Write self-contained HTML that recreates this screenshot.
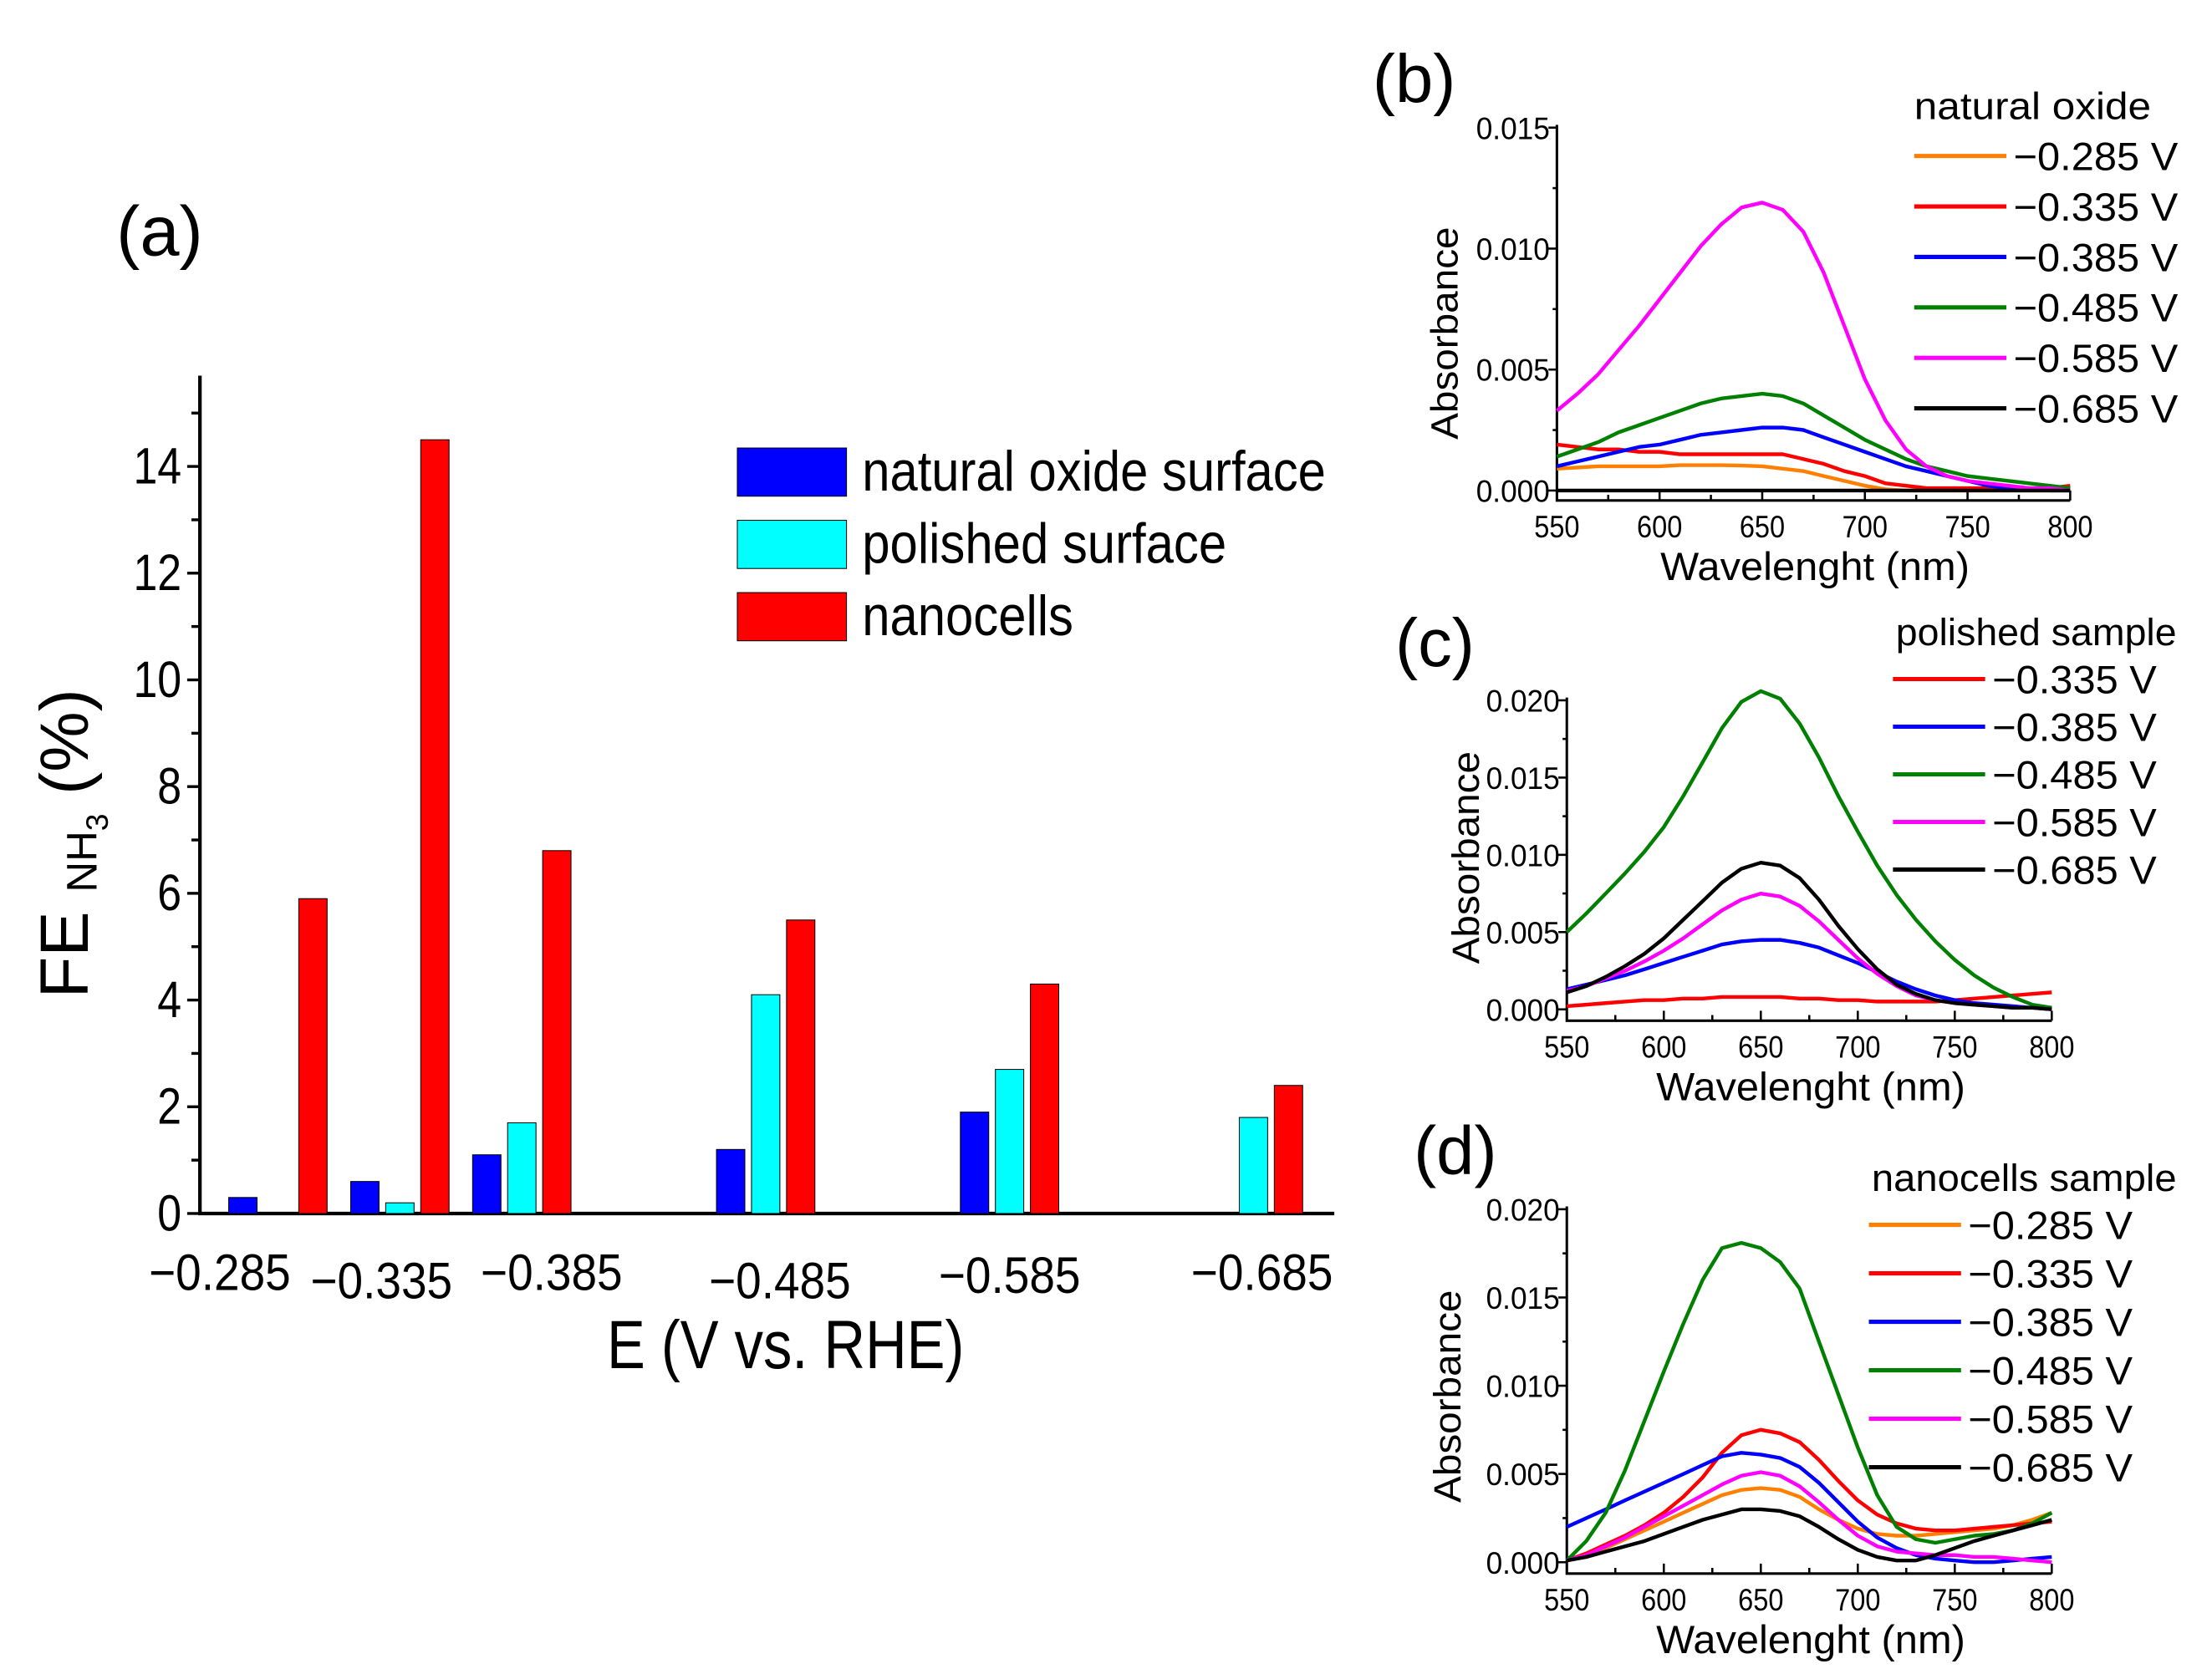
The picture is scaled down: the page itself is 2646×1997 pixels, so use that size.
<!DOCTYPE html>
<html><head><meta charset="utf-8"><style>
html,body{margin:0;padding:0;background:#fff}
svg{display:block}
text{font-family:"Liberation Sans Narrow","Liberation Sans",sans-serif;fill:#000}
</style></head><body>
<svg id="fig" width="2646" height="1997" viewBox="0 0 1560 1177.3" xmlns="http://www.w3.org/2000/svg">
<rect width="1560" height="1177.3" fill="#fff"/>
<g id="pa"></g>
<g id="pb"></g>
<g id="pc"></g>
<g id="pd"></g>
</svg>
<script>
// ---- Panel (a) data ----
const potentials = [-0.285, -0.335, -0.385, -0.485, -0.585, -0.685];
const potentialLabels = ["\u22120.285","\u22120.335","\u22120.385","\u22120.485","\u22120.585","\u22120.685"];
const natOxide = [0.3, 0.6, 1.1, 1.2, 1.9, null];
const polished = [null, 0.2, 1.7, 4.1, 2.7, 1.8];
const nanocells = [5.9, 14.5, 6.8, 5.5, 4.3, 2.4];
const aTicks = [0, 2, 4, 6, 8, 10, 12, 14];

// ---- Spectra data (550..800 nm, 10 nm step) ----
const wavelengths = [550,560,570,580,590,600,610,620,630,640,650,660,670,680,690,700,710,720,730,740,750,760,770,780,790,800];
const bOrange = [.0009,.00095,.001,.001,.001,.001,.00105,.00105,.00105,.00103,.001,.0009,.0008,.0006,.0004,.0002,.00005,0,0,0,0,0,0,0,0,0];
const bRed = [.0019,.0018,.0017,.0017,.0016,.0016,.0015,.0015,.0015,.0015,.0015,.0015,.0013,.0011,.0008,.0006,.0003,.0002,.0001,.0001,.0001,.0001,.0001,.0001,.0001,.0002];
const bBlue = [.001,.0012,.0014,.0016,.0018,.0019,.0021,.0023,.0024,.0025,.0026,.0026,.0025,.0022,.0019,.0016,.0013,.001,.0008,.0006,.0004,.0002,.0001,.0001,0,0];
const bGreen = [.0014,.0017,.002,.0024,.0027,.003,.0033,.0036,.0038,.0039,.004,.0039,.0036,.0031,.0026,.0021,.0017,.0013,.001,.0008,.0006,.0005,.0004,.0003,.0002,.0001];
const bMagenta = [.0033,.004,.0048,.0058,.0068,.0079,.009,.0101,.011,.0117,.0119,.0116,.0107,.009,.0068,.0046,.0029,.0017,.001,.0006,.0004,.0003,.0002,.0001,.0001,0];
const bBlack = [0,0,0,0,0,0,0,0,0,0,0,0,0,0,0,0,0,0,0,0,0,0,0,0,0,0];

const cRed = [.0002,.0003,.0004,.0005,.0006,.0006,.0007,.0007,.0008,.0008,.0008,.0008,.0007,.0007,.0006,.0006,.0005,.0005,.0005,.0005,.0006,.0007,.0008,.0009,.001,.0011];
const cBlue = [.0013,.0016,.0019,.0022,.0026,.003,.0034,.0038,.0042,.0044,.0045,.0045,.0043,.004,.0035,.003,.0024,.0018,.0013,.0009,.0006,.0004,.0003,.0002,.0001,.0001];
const cGreen = [.005,.0062,.0075,.0088,.0102,.0118,.0138,.016,.0182,.0199,.0206,.0201,.0185,.0163,.0138,.0115,.0093,.0074,.0058,.0044,.0032,.0022,.0014,.0008,.0003,.0001];
const cMagenta = [.0012,.0015,.002,.0025,.0031,.0038,.0046,.0055,.0064,.0071,.0075,.0073,.0067,.0057,.0045,.0033,.0023,.0015,.0009,.0006,.0004,.0003,.0002,.0001,.0001,0];
const cBlack = [.0011,.0015,.0021,.0028,.0036,.0046,.0058,.007,.0082,.0091,.0095,.0093,.0085,.0071,.0054,.0039,.0026,.0016,.001,.0006,.0004,.0003,.0002,.0001,.0001,0];

const dOrange = [.0001,.0004,.0008,.0013,.0018,.0023,.0028,.0033,.0038,.0041,.0042,.0041,.0037,.003,.0024,.0019,.0016,.0015,.0015,.0016,.0017,.0018,.0019,.0021,.0024,.0028];
const dRed = [.0001,.0005,.001,.0015,.0021,.0028,.0037,.0048,.0062,.0072,.0075,.0073,.0068,.0058,.0046,.0035,.0027,.0022,.0019,.0018,.0018,.0019,.002,.0021,.0022,.0023];
const dBlue = [.002,.0025,.003,.0035,.004,.0045,.005,.0055,.006,.0062,.0061,.0059,.0054,.0045,.0034,.0023,.0014,.0008,.0004,.0002,.0001,0,0,.0001,.0002,.0003];
const dGreen = [.0001,.0012,.0028,.0052,.008,.0108,.0135,.016,.0178,.0181,.0178,.017,.0155,.0125,.0095,.0065,.0038,.002,.0013,.0011,.0013,.0015,.0016,.0018,.0022,.0028];
const dMagenta = [.0001,.0004,.0009,.0014,.002,.0026,.0032,.0038,.0044,.0049,.0051,.0049,.0043,.0034,.0024,.0015,.0009,.0006,.0005,.0004,.0004,.0003,.0003,.0002,.0001,0];
const dBlack = [.0001,.0003,.0006,.0009,.0012,.0016,.002,.0024,.0027,.003,.003,.0029,.0026,.002,.0013,.0007,.0003,.0001,.0001,.0004,.0008,.0012,.0015,.0018,.0021,.0024];

const NS = "http://www.w3.org/2000/svg";
function mk(parent, tag, attrs, txt) {
  const e = document.createElementNS(NS, tag);
  for (const k in attrs) e.setAttribute(k, attrs[k]);
  if (txt !== undefined) e.textContent = txt;
  parent.appendChild(e);
  return e;
}

// ================= Panel (a) =================
(function(){
  const g = document.getElementById('pa');
  const y0 = 856, yPer = (856 - 329) / 14;
  const yS = v => y0 - v * yPer;
  const xS = p => 196 + (-0.285 - p) / 0.05 * 86;
  const bw = 20;
  // layout-only nudges for tick label placement (as in original figure)
  const labelNudge = [-41, -13, 21, 10, 0, 6];
  const labelDrop = [0, 6, 0, 6, 2, 0];
  const t = mk(g, 'text', {x: 82, y: 180, 'font-size': 50});
  t.textContent = '(a)';
  
  
  const ax = mk(g, 'path', {d: `M141 265 V${y0} H941`, stroke: '#000', 'stroke-width': 2.5, fill: 'none'});
  
  
  for (let v = 1; v <= 15; v += 2) {
    mk(g, 'line', {x1: 135, x2: 141, y1: yS(v), y2: yS(v), stroke: '#000', 'stroke-width': 2});
  }
  aTicks.forEach(v => {
    mk(g, 'line', {x1: 132, x2: 141, y1: yS(v), y2: yS(v), stroke: '#000', 'stroke-width': 2});
    const s = String(v);
    const tl = mk(g, 'text', {x: 128, y: yS(v) + 12, 'font-size': 36, 'text-anchor': 'end', textLength: s.length * 17, lengthAdjust: 'spacingAndGlyphs'}, s);
    
    
  });
  const series = [[natOxide, '#0000ff', -1], [polished, '#00ffff', 0], [nanocells, '#ff0000', 1]];
  potentials.forEach((p, i) => {
    const cx = xS(p);
    series.forEach(([arr, col, off]) => {
      const v = arr[i];
      if (v === null) return;
      const r = mk(g, 'rect', {x: cx - bw / 2 + off * 24.7, y: yS(v), width: bw, height: y0 - yS(v), fill: col, stroke: '#000', 'stroke-width': 0.6});
      
      
    });
    const tl = mk(g, 'text', {x: cx + labelNudge[i], y: 910 + labelDrop[i], 'font-size': 36, 'text-anchor': 'middle', textLength: 100, lengthAdjust: 'spacingAndGlyphs'}, potentialLabels[i]);
    
    
  });
  const xt = mk(g, 'text', {x: 554, y: 965, 'font-size': 48, 'text-anchor': 'middle', textLength: 252, lengthAdjust: 'spacingAndGlyphs'}, 'E (V vs. RHE)');
  
  
  const yt = mk(g, 'text', {transform: 'translate(62,595) rotate(-90)', 'font-size': 48, 'text-anchor': 'middle'});
  
  
  mk(yt, 'tspan', {}, 'FE ');
  mk(yt, 'tspan', {'font-size': 30, dy: 6}, 'NH');
  mk(yt, 'tspan', {'font-size': 22, dy: 8}, '3');
  mk(yt, 'tspan', {dy: -14}, ' (%)');
  const leg = [['natural oxide surface', '#0000ff', 327], ['polished surface', '#00ffff', 257], ['nanocells', '#ff0000', 149]];
  leg.forEach(([name, col, w], i) => {
    const y = 316 + i * 51;
    const r = mk(g, 'rect', {x: 520, y: y, width: 77, height: 34, fill: col, stroke: '#000', 'stroke-width': 0.6});
    
    
    const tx = mk(g, 'text', {x: 608, y: y + 30, 'font-size': 40, textLength: w, lengthAdjust: 'spacingAndGlyphs'}, name);
    
    
  });
})();

// ================= Spectra panels =================
function spectra(id, cfg) {
  const g = document.getElementById(id);
  const xS = w => cfg.x0 + (w - 550) / 250 * (cfg.x1 - cfg.x0);
  const yS = v => cfg.y0 - v / cfg.ymax * (cfg.y0 - cfg.ytop);
  const axY = cfg.axY;
  const lab = mk(g, 'text', {x: cfg.lx, y: cfg.ly, 'font-size': 48}, cfg.label);
  
  
  const ax = mk(g, 'path', {d: `M${cfg.x0} ${cfg.ytop - 2} V${axY} H${cfg.x1}`, stroke: '#000', 'stroke-width': 1.8, fill: 'none'});
  
  
  for (let w = 550; w <= 800; w += 25) {
    const major = (w % 50 === 0);
    mk(g, 'line', {x1: xS(w), x2: xS(w), y1: axY, y2: axY - (major ? 7 : 4), stroke: '#000', 'stroke-width': 1.5});
    if (major) {
      const tl = mk(g, 'text', {x: xS(w), y: axY + 26, 'font-size': 22, 'text-anchor': 'middle', textLength: 32, lengthAdjust: 'spacingAndGlyphs'}, String(w));
      
      
    }
  }
  for (let k = 0; k <= cfg.ymax / cfg.ystep * 2 + 0.01; k++) {
    const v = k * cfg.ystep / 2;
    const major = k % 2 === 0;
    mk(g, 'line', {x1: cfg.x0 - (major ? 6 : 3), x2: cfg.x0, y1: yS(v), y2: yS(v), stroke: '#000', 'stroke-width': 1.5});
    if (major) {
      const tl = mk(g, 'text', {x: cfg.x0 - 5, y: yS(v) + 8, 'font-size': 22, 'text-anchor': 'end', textLength: 52, lengthAdjust: 'spacingAndGlyphs'}, v.toFixed(3));
      
      
    }
  }
  const xt = mk(g, 'text', {x: (cfg.x0 + cfg.x1) / 2 + 1, y: axY + 56, 'font-size': 28, 'text-anchor': 'middle', textLength: 218, lengthAdjust: 'spacingAndGlyphs'}, 'Wavelenght (nm)');
  
  
  const yt = mk(g, 'text', {transform: `translate(${cfg.ax},${cfg.ay}) rotate(-90)`, 'font-size': 27, 'text-anchor': 'middle', textLength: 150, lengthAdjust: 'spacingAndGlyphs'}, 'Absorbance');
  
  
  const lt = mk(g, 'text', {x: cfg.legX, y: cfg.legY, 'font-size': 27, textLength: cfg.legW, lengthAdjust: 'spacingAndGlyphs'}, cfg.legTitle);
  
  
  cfg.series.forEach(([arr, col, name], i) => {
    const pts = wavelengths.map((w, j) => xS(w).toFixed(1) + ',' + yS(arr[j]).toFixed(1)).join(' ');
    const pl = mk(g, 'polyline', {points: pts, fill: 'none', stroke: col, 'stroke-width': 2.6, 'stroke-linejoin': 'round'});
    
    
    const ry = cfg.rowY + i * cfg.rowH;
    mk(g, 'line', {x1: cfg.lineX, x2: cfg.lineX + 65, y1: ry, y2: ry, stroke: col, 'stroke-width': 3});
    const tx = mk(g, 'text', {x: cfg.lineX + 70, y: ry + 10, 'font-size': 28, textLength: 116, lengthAdjust: 'spacingAndGlyphs'}, name);
    
    
  });
}

spectra('pb', {label: '(b)', lx: 968, ly: 72, x0: 1098, x1: 1460, y0: 346, ytop: 90, ymax: 0.015, ystep: 0.005, axY: 353,
  ax: 1028, ay: 235, legTitle: 'natural oxide', legX: 1350, legY: 84, legW: 167, lineX: 1350, rowY: 110, rowH: 35.6,
  series: [[bOrange, '#ff8000', '\u22120.285 V'], [bRed, '#ff0000', '\u22120.335 V'], [bBlue, '#0000ff', '\u22120.385 V'],
           [bGreen, '#008000', '\u22120.485 V'], [bMagenta, '#ff00ff', '\u22120.585 V'], [bBlack, '#000000', '\u22120.685 V']]});

spectra('pc', {label: '(c)', lx: 984, ly: 470, x0: 1105, x1: 1447, y0: 712, ytop: 494, ymax: 0.020, ystep: 0.005, axY: 720,
  ax: 1043, ay: 605, legTitle: 'polished sample', legX: 1337, legY: 455, legW: 198, lineX: 1335, rowY: 479, rowH: 33.6,
  series: [[cRed, '#ff0000', '\u22120.335 V'], [cBlue, '#0000ff', '\u22120.385 V'], [cGreen, '#008000', '\u22120.485 V'],
           [cMagenta, '#ff00ff', '\u22120.585 V'], [cBlack, '#000000', '\u22120.685 V']]});

spectra('pd', {label: '(d)', lx: 997, ly: 828, x0: 1105, x1: 1447, y0: 1102, ytop: 853, ymax: 0.020, ystep: 0.005, axY: 1110,
  ax: 1030, ay: 985, legTitle: 'nanocells sample', legX: 1320, legY: 840, legW: 215, lineX: 1318, rowY: 864, rowH: 34.2,
  series: [[dOrange, '#ff8000', '\u22120.285 V'], [dRed, '#ff0000', '\u22120.335 V'], [dBlue, '#0000ff', '\u22120.385 V'],
           [dGreen, '#008000', '\u22120.485 V'], [dMagenta, '#ff00ff', '\u22120.585 V'], [dBlack, '#000000', '\u22120.685 V']]});
</script>
</body></html>
